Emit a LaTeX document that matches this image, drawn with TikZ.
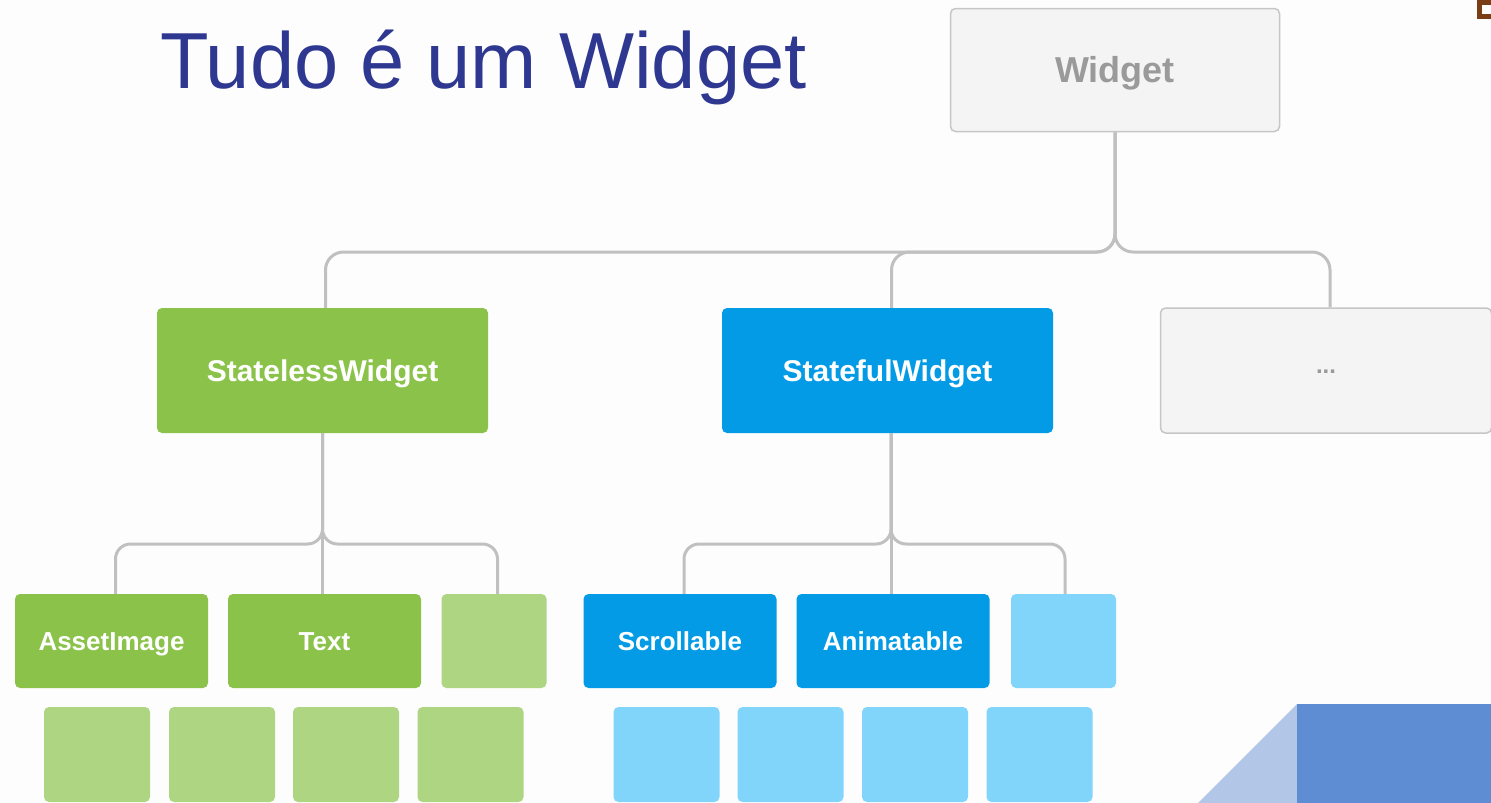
\documentclass[tikz,border=0pt]{standalone}
\usepackage{fontspec}
\setmainfont{Liberation Sans}
\definecolor{bg}{HTML}{FDFDFD}
\definecolor{titleblue}{RGB}{46,56,145}
\definecolor{greybox}{HTML}{F4F4F4}
\definecolor{greyline}{HTML}{C6C6C6}
\definecolor{greytext}{HTML}{9A9A9A}
\definecolor{conncol}{HTML}{C0C0C0}
\definecolor{green1}{HTML}{8BC34A}
\definecolor{green2}{HTML}{AED581}
\definecolor{blue1}{HTML}{039BE5}
\definecolor{blue2}{HTML}{81D4FA}
\definecolor{decodark}{HTML}{5F8DD3}
\definecolor{decolight}{HTML}{B2C7E8}
\definecolor{brownmark}{RGB}{122,62,22}
\tikzset{
  box/.style={rounded corners=5pt, inner sep=0pt, text=white, text height=18.6pt, text depth=0pt, font=\bfseries\fontsize{26}{30}\selectfont},
  topbox/.style={box, minimum width=331pt, minimum height=125pt, text height=21.5pt, font=\bfseries\fontsize{30}{34}\selectfont},
  midbox/.style={box, minimum width=193pt, minimum height=94pt},
  smallbox/.style={box, minimum width=105pt, minimum height=94pt},
  leafbox/.style={box, minimum width=106pt, minimum height=95pt},
  greyboxst/.style={fill=greybox, draw=greyline, line width=1.5pt, text=greytext},
  conn/.style={draw=conncol, line width=3pt, rounded corners=18pt},
  conntwo/.style={draw=conncol, line width=3pt, rounded corners=15pt},
}
\begin{document}
\begin{tikzpicture}[x=1pt, y=-1pt]
\fill[bg] (0,0) rectangle (1491,803);
\useasboundingbox (0,0) rectangle (1491,803);

% decorations
\fill[brownmark] (1477,0) rectangle (1491,19);
\fill[white] (1482,5) rectangle (1491,14);
\fill[decolight] (1198,803) -- (1297,704) -- (1297,803) -- cycle;
\fill[decodark] (1297,704) rectangle (1491,803);

% title
\node[anchor=base west, inner sep=0pt, text=titleblue, font=\fontsize{79.5}{90}\selectfont] (title) at (160,88) {Tudo é um Widget};

% level 0
\node[topbox, greyboxst, minimum width=329pt, minimum height=123pt, text height=25.8pt, font=\bfseries\fontsize{36}{40}\selectfont] (w) at (1115,70) {Widget};

% level 1
\node[topbox, fill=green1] (sl) at (322.5,370.5) {StatelessWidget};
\node[topbox, fill=blue1] (sf) at (887.5,370.5) {StatefulWidget};
\node[topbox, greyboxst, text height=6pt, font=\bfseries\fontsize{24}{28}\selectfont] (dots) at (1326,370.5) {...};

% level 2
\node[midbox, fill=green1] (ai) at (111.5,641) {AssetImage};
\node[midbox, fill=green1] (tx) at (324.5,641) {Text};
\node[smallbox, fill=green2] (g3) at (494,641) {};
\node[midbox, fill=blue1] (sc) at (680,641) {Scrollable};
\node[midbox, fill=blue1] (an) at (893,641) {Animatable};
\node[smallbox, fill=blue2] (b3) at (1063.5,641) {};

% leaves
\node[leafbox, fill=green2] (gl1) at (97,754.5) {};
\node[leafbox, fill=green2] (gl2) at (222,754.5) {};
\node[leafbox, fill=green2] (gl3) at (346,754.5) {};
\node[leafbox, fill=green2] (gl4) at (470.5,754.5) {};
\node[leafbox, fill=blue2] (bl1) at (666.5,754.5) {};
\node[leafbox, fill=blue2] (bl2) at (790.5,754.5) {};
\node[leafbox, fill=blue2] (bl3) at (915,754.5) {};
\node[leafbox, fill=blue2] (bl4) at (1039.5,754.5) {};

% junctions
\coordinate (j0) at (1115,252);
\coordinate (j1) at (322.5,544);
\coordinate (j2) at (891,544);

% connectors level 0 -> 1
\draw[conn] (w.south) -- (j0) -| ([xshift=3pt]sl.north);
\draw[conn] (w.south) -- (j0) -| ([xshift=4pt]sf.north);
\draw[conn] (w.south) -- (j0) -| ([xshift=4pt]dots.north);

% connectors level 1 -> 2
\draw[conntwo] (sl.south) -- (j1) -| ([xshift=4pt]ai.north);
\draw[conntwo] (sl.south) -- (sl.south |- tx.north);
\draw[conntwo] (sl.south) -- (j1) -| ([xshift=3.5pt]g3.north);
\draw[conntwo] ([xshift=3.5pt]sf.south) -- (j2) -| ([xshift=4pt]sc.north);
\draw[conntwo] ([xshift=3.5pt]sf.south) -- ([xshift=3.5pt]sf.south |- an.north);
\draw[conntwo] ([xshift=3.5pt]sf.south) -- (j2) -| ([xshift=1.5pt]b3.north);
\end{tikzpicture}
\end{document}
